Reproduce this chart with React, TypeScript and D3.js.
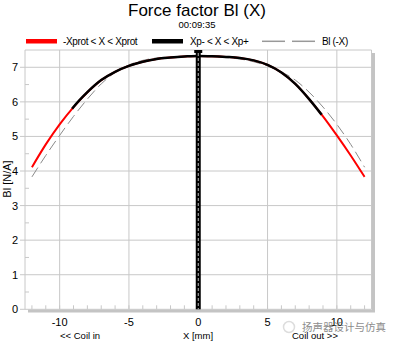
import React from "react";
import * as d3 from "d3";

const xs = [-12, -11, -10, -9, -8, -7, -6, -5, -4, -3, -2, -1, 0, 1, 2, 3, 4, 5, 6, 7, 8, 9, 10, 11, 12];
const blRed = [4.11, 4.77, 5.35, 5.85, 6.28, 6.63, 6.87, 7.04, 7.16, 7.24, 7.28, 7.31, 7.33, 7.32, 7.3, 7.27, 7.2, 7.07, 6.85, 6.52, 6.08, 5.58, 5.03, 4.45, 3.83];
const blMirror = [3.83, 4.45, 5.03, 5.58, 6.08, 6.52, 6.85, 7.07, 7.2, 7.27, 7.3, 7.32, 7.33, 7.31, 7.28, 7.24, 7.16, 7.04, 6.87, 6.63, 6.28, 5.85, 5.35, 4.77, 4.11];
const xpMinus = -9.1;
const xpPlus = 8.9;
const xTicks = [-10, -5, 0, 5, 10];
const yTicks = [0, 1, 2, 3, 4, 5, 6, 7];
const legendLabels = ["-Xprot < X < Xprot", "Xp- < X < Xp+", "Bl (-X)"];

const W = 396, H = 348;
const L = 25, R = 371.5, T = 50, B = 309.3;
const font = "'Liberation Sans', Arial, sans-serif";

export default function App() {
  const x = d3.scaleLinear().domain([-12.5, 12.5]).range([L, R]);
  const y = d3.scaleLinear().domain([0, 7.5]).range([B, T]);
  const redPts: [number, number][] = xs.map((v, i) => [v, blRed[i]]);
  const mirPts: [number, number][] = xs.map((v, i) => [v, blMirror[i]]);
  const interp = (xv: number) => {
    for (let i = 0; i < xs.length - 1; i++) {
      if (xv >= xs[i] && xv <= xs[i + 1]) {
        const t = (xv - xs[i]) / (xs[i + 1] - xs[i]);
        return blRed[i] + t * (blRed[i + 1] - blRed[i]);
      }
    }
    return 0;
  };
  const blackPts: [number, number][] = [[xpMinus, interp(xpMinus)], ...redPts.filter(p => p[0] > xpMinus && p[0] < xpPlus), [xpPlus, interp(xpPlus)]];
  const gen = d3.line<[number, number]>().x(d => x(d[0])).y(d => y(d[1])).curve(d3.curveMonotoneX);
  const minorX = d3.range(-12, 13, 1);
  const minorY = d3.range(0.5, 7.5, 1);
  const grid = "#c8c8c8";

  return (
    <svg width={W} height={H} style={{ position: "absolute", left: 0, top: 0, background: "#fff" }} fontFamily={font}>
      <rect width={W} height={H} fill="#fff" />
      <text x={197} y={16} textAnchor="middle" fontSize={17}>Force factor Bl (X)</text>
      <text x={197} y={28} textAnchor="middle" fontSize={9.5}>00:09:35</text>
      {/* legend */}
      <rect x={26} y={39} width={31} height={4.5} fill="#ff0000" />
      <text x={63} y={45} fontSize={10} letterSpacing={-0.35}>{legendLabels[0]}</text>
      <rect x={152} y={39} width={31} height={4.5} fill="#000" />
      <text x={190} y={45} fontSize={10} letterSpacing={-0.35}>{legendLabels[1]}</text>
      <line x1={262} x2={285} y1={41.3} y2={41.3} stroke="#999" strokeWidth={1.5} />
      <line x1={292} x2={315} y1={41.3} y2={41.3} stroke="#999" strokeWidth={1.5} />
      <text x={322} y={45} fontSize={10} letterSpacing={-0.35}>{legendLabels[2]}</text>

      {/* shadows */}
      <rect x={372} y={53} width={3} height={259} fill="#c4c4c4" />
      <rect x={28} y={309.5} width={347} height={3} fill="#c4c4c4" />

      {/* grid */}
      {yTicks.map(t => (
        <line key={"gy" + t} x1={L} x2={R} y1={y(t)} y2={y(t)} stroke={grid} strokeWidth={1} />
      ))}
      <line x1={L} x2={R} y1={T} y2={T} stroke={grid} />
      <line x1={R} x2={R} y1={T} y2={B} stroke={grid} />
      {xTicks.map(t => (
        <line key={"gx" + t} x1={x(t)} x2={x(t)} y1={T} y2={B} stroke={grid} strokeWidth={1} />
      ))}
      {minorX.map(t => (
        <line key={"mx" + t} x1={x(t)} x2={x(t)} y1={B} y2={B - 4} stroke={grid} />
      ))}
      {minorY.map(t => (
        <line key={"my" + t} x1={L} x2={L + 4} y1={y(t)} y2={y(t)} stroke={grid} />
      ))}
      <line x1={L} x2={L} y1={T} y2={B} stroke={grid} />
      {yTicks.map(t => (
        <g key={"yt" + t}>
          <line x1={L - 5} x2={L} y1={y(t)} y2={y(t)} stroke={grid} />
          <text x={18} y={y(t) + 4} textAnchor="end" fontSize={11}>{t}</text>
        </g>
      ))}
      {xTicks.map(t => (
        <text key={"xt" + t} x={x(t)} y={326} textAnchor="middle" fontSize={11}>{t}</text>
      ))}
      <text transform={`translate(11,179) rotate(-90)`} textAnchor="middle" fontSize={11}>Bl [N/A]</text>
      <text x={198} y={339} textAnchor="middle" fontSize={9.5}>X [mm]</text>
      <text x={60} y={339} fontSize={9.5}>{"<< Coil in"}</text>
      <text x={292} y={339} fontSize={9.5}>{"Coil out >>"}</text>

      {/* curves */}
      <path d={gen(mirPts) || ""} fill="none" stroke="#8a8a8a" strokeWidth={1} strokeDasharray="11,5" />
      <path d={gen(redPts) || ""} fill="none" stroke="#ff0000" strokeWidth={2} />
      <path d={gen(blackPts) || ""} fill="none" stroke="#000" strokeWidth={2.5} />

      {/* position marker */}
      <rect x={x(0) - 2.5} y={51} width={5} height={B - 51} fill="#000" />
      <line x1={x(0)} x2={x(0)} y1={53} y2={B} stroke="#bbb" strokeWidth={1} strokeDasharray="3,2" />
      <rect x={x(0) - 4} y={T} width={8} height={3} fill="#000" />

      {/* watermark */}
      <circle cx={289} cy={327} r={5.5} fill="none" stroke="#ddd" strokeWidth={1.5} />
      <text x={302} y={331} fontSize={10.5} fill="#666" opacity={0.75} fontFamily="'Noto Sans CJK SC', sans-serif">扬声器设计与仿真</text>
    </svg>
  );
}
